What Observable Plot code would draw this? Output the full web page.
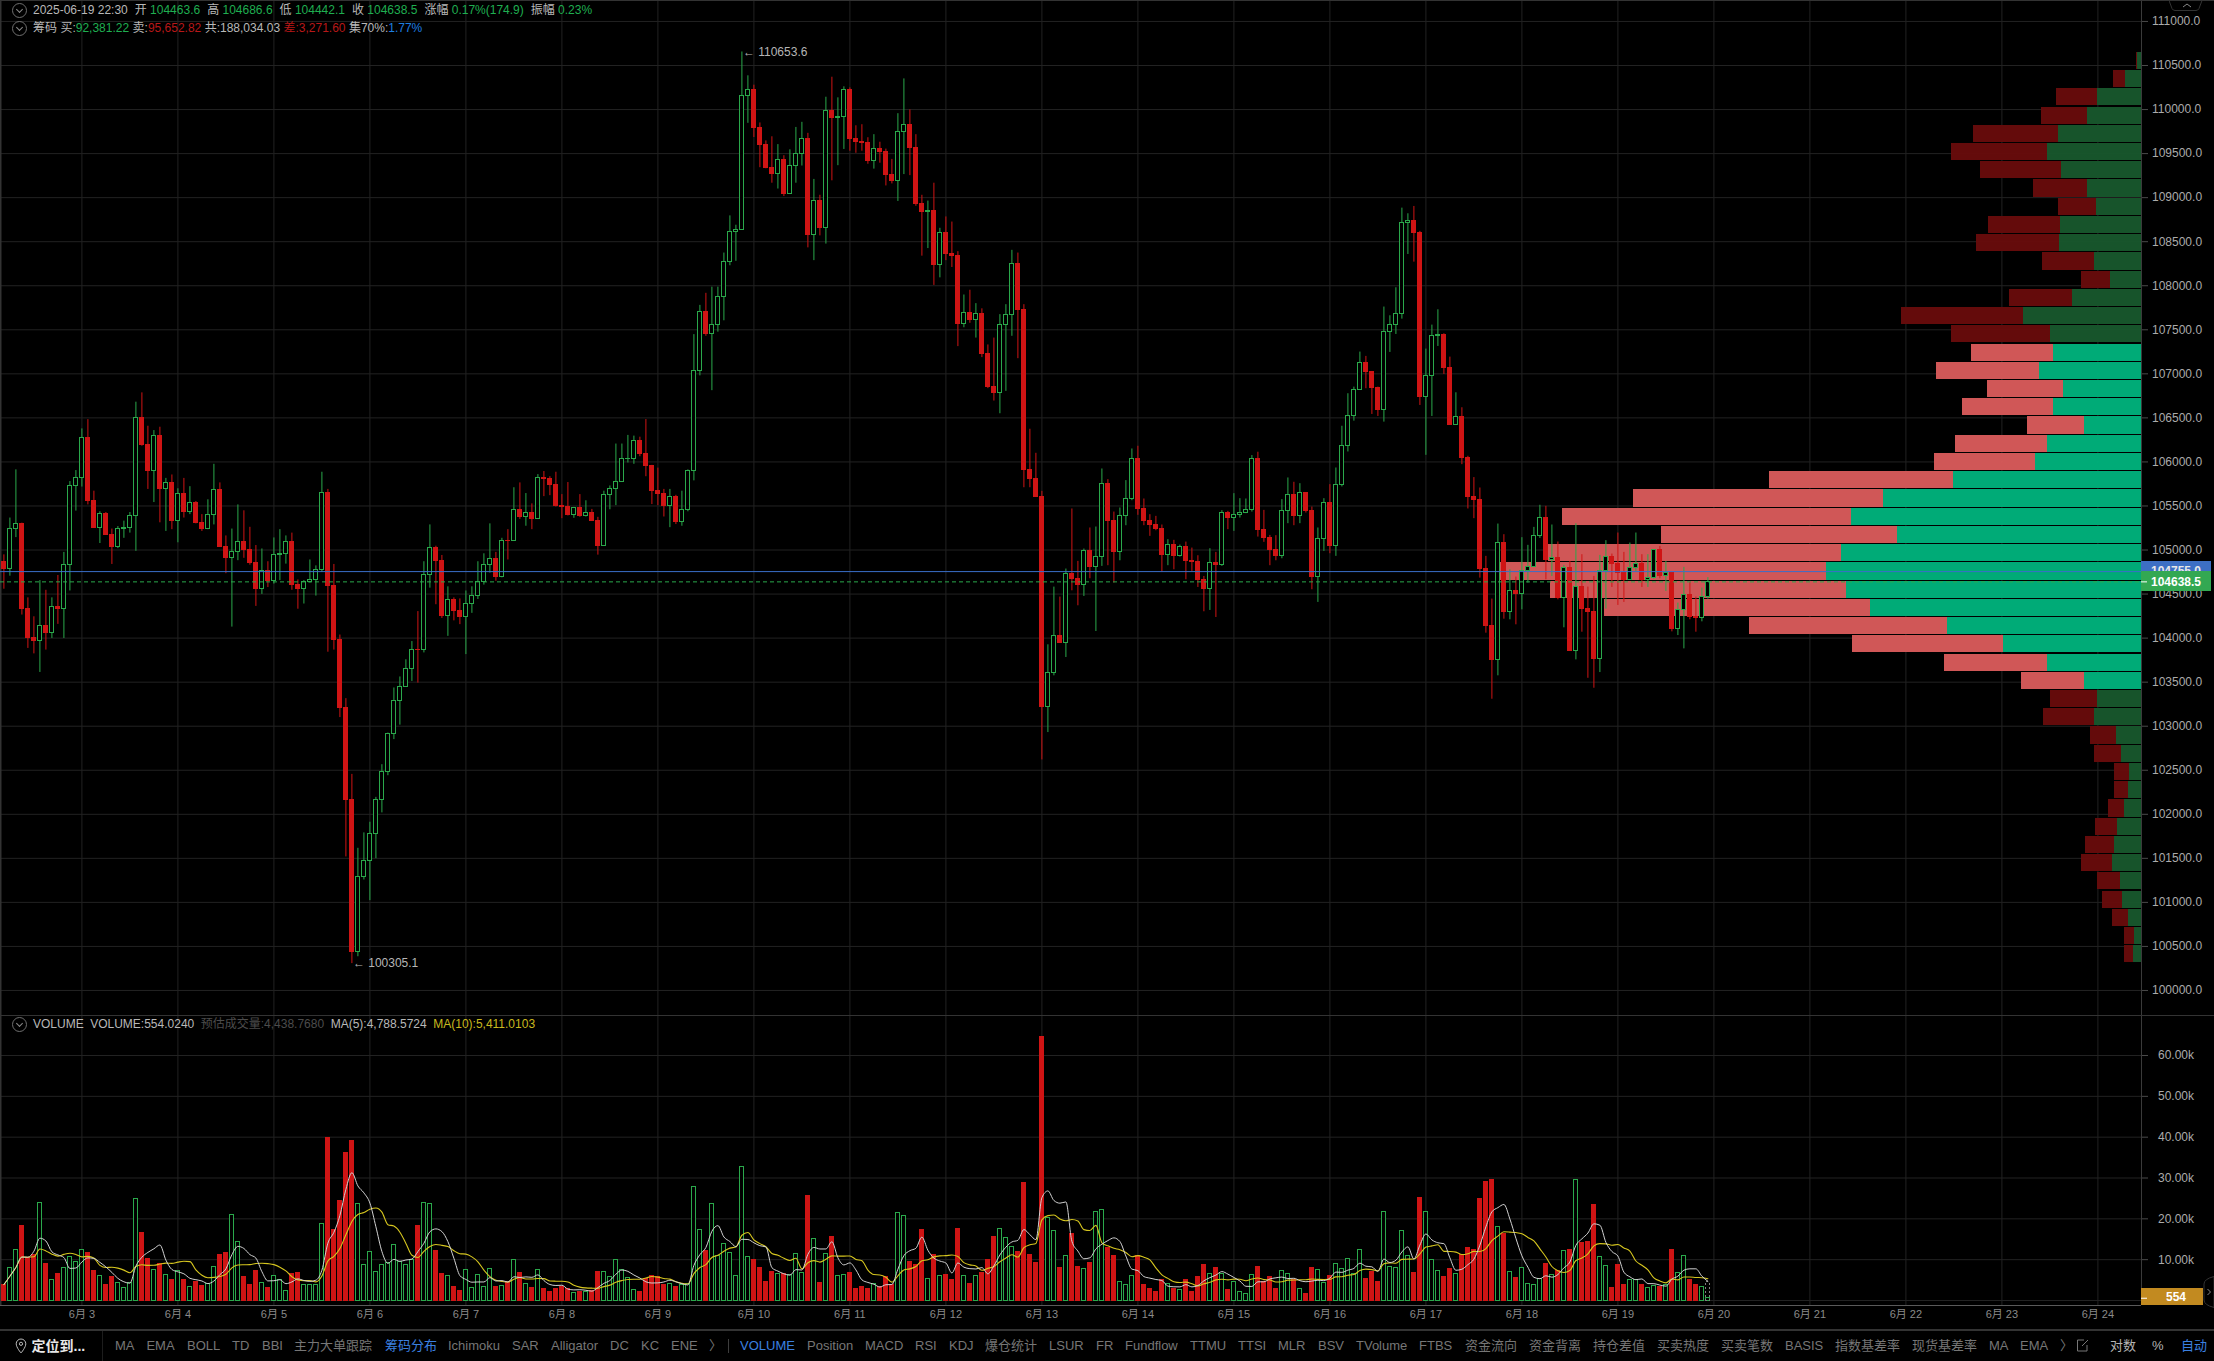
<!DOCTYPE html>
<html lang="zh">
<head>
<meta charset="utf-8">
<title>K线 筹码分布</title>
<script src="https://cdn.jsdelivr.net/npm/d3@7"></script>
<script src="https://cdn.jsdelivr.net/npm/@observablehq/plot@0.6"></script>
<style>
html,body{margin:0;padding:0;background:#000;}
body{position:relative;width:2214px;height:1361px;overflow:hidden;font-family:"Liberation Sans","Noto Sans CJK SC",sans-serif;font-size:12px;color:#b8b8b8;}
.pane{position:absolute;left:0;}
.pane svg{display:block;max-width:none;}
.pane svg rect{shape-rendering:crispEdges;}
.hd{position:absolute;left:33px;white-space:pre;line-height:18px;height:18px;}
.hd .g{color:#1fae50}.hd .r{color:#b81818}.hd .b{color:#1e7fe0}.hd .w{color:#b8b8b8}.hd .d{color:#4c4c4c}.hd .y{color:#c9b91f}
.hd .gap{margin-left:7px}.hd .gap2{margin-left:6.5px}.hd .sm{margin-left:3.4px}
.ln{position:absolute;background:#333;}
.circ{position:absolute;left:12px;width:13px;height:13px;border:1px solid #6f6f6f;border-radius:50%;}
.circ:after{content:"";position:absolute;left:4px;top:3px;width:4px;height:4px;border-right:1px solid #8a8a8a;border-bottom:1px solid #8a8a8a;transform:rotate(45deg);}
.tb{position:absolute;top:1336px;line-height:20px;height:20px;font-size:13px;color:#767676;white-space:pre;}
.tb.on{color:#3b80e0}
.tb.br{color:#b4b4b4}
</style>
</head>
<body>
<div id="price" class="pane" style="top:0"></div>
<div id="vol" class="pane" style="top:1015px"></div>
<script>
// ---- values ----
const lastCandle = "2025-06-19T22:30:00Z";
const candleHours = 1.5;
const firstOpen = 104867;
const closes = [
104781,105238,105297,104328,103998,103965,104141,104055,104352,104336,
104832,105727,105817,106273,105559,105254,105414,105168,105039,105242,
105250,105387,106500,106195,105895,106300,105688,105758,105328,105637,
105426,105535,105305,105235,105399,105684,105039,104914,104981,105094,
105000,104848,104555,104758,104645,104945,104953,105094,104602,104555,
104641,104660,104777,105649,104590,103977,103207,102164,100434,101293,
101465,101782,102157,102485,102906,103285,103450,103653,103864,103860,
104715,105020,104879,104250,104434,104309,104238,104391,104481,104637,
104832,104895,104692,105106,105100,105453,105375,105422,105348,105820,
105801,105742,105504,105488,105395,105473,105383,105422,105328,105043,
105621,105688,105770,106028,106035,106234,106094,105953,105672,105641,
105500,105606,105317,105457,105895,107035,107707,107457,107555,107875,
108273,108613,108633,110156,110226,109789,109598,109336,109269,109422,
109043,109363,109496,109668,108578,108961,108656,109988,109906,109918,
110226,109664,109633,109621,109418,109551,109516,109258,109187,109750,
109828,109562,108930,108832,108852,108238,108594,108363,108332,107563,
107695,107613,107680,107227,106852,106785,107559,107672,108242,107727,
105910,105809,105602,103215,103602,104022,103950,104727,104674,104606,
104988,104803,104920,105750,105325,104981,105386,105579,106030,105469,
105333,105287,105234,104939,105056,104935,105034,104878,104867,104662,
104553,104852,104833,105420,105359,105394,105420,105450,106030,105231,
105140,104996,104928,105443,105625,105382,105647,105439,104689,105125,
105534,105041,105734,106181,106522,106819,107126,107020,106838,106585,
107478,107557,107682,108715,108738,108598,106736,106978,107432,107444,
107065,106414,106509,106049,105598,105572,104787,104143,103746,105079,
104302,104534,104503,104761,104803,105159,105364,104890,104909,104454,
104795,103855,104575,104336,104291,103768,104761,104920,104837,104734,
104662,104791,104841,104662,104678,105000,104708,104738,104105,104317,
104484,104245,104223,104463.6,104638.5];
const highs = [
104945,105363,105910,105305,104457,104242,104653,104543,104457,104711,
104973,105777,105902,106375,106480,105668,105434,105426,105238,105266,
105328,105426,106678,106784,106405,106356,106394,105813,105852,105695,
105813,105719,105551,105402,105570,105973,105762,105160,105238,105512,
105445,105258,105051,105012,104867,105137,105231,105160,105192,104660,
104653,104887,104820,105883,105688,104836,104035,103313,102453,101614,
101789,101910,102192,102563,102922,103434,103559,103754,103961,104301,
104867,105285,105043,104938,104582,104457,104445,104535,104582,104867,
104957,105297,104973,105133,105231,105707,105762,105641,105524,105856,
105891,105832,105883,105629,105766,105484,105629,105559,105461,105371,
105668,105727,106203,106203,106301,106293,106281,106481,105961,105930,
105688,105688,105621,105668,105910,107445,107777,107914,107984,107984,
108371,108793,108687,110653.6,110383,110277,109848,109644,109691,109602,
109476,109543,109797,109855,109730,109207,109027,110140,110367,110133,
110258,110246,109816,109828,109680,109715,109629,109551,109434,109953,
110348,109996,109715,109027,108961,109164,108652,108781,108723,108387,
107895,107949,107797,107738,107328,107406,107672,107785,108402,108371,
107785,106371,106098,105666,103924,104579,104466,104784,105466,104871,
105011,105250,105261,105920,105799,105431,105477,105788,106147,106178,
105579,105401,105382,105284,105117,105110,105056,105090,105022,104935,
104700,105015,104973,105447,105439,105640,105583,105579,106072,106110,
105450,105166,105163,105572,105818,105769,105753,105647,105488,105250,
105583,105742,105931,106405,106774,106849,107247,107198,107027,106849,
107758,107659,107977,108881,108817,108900,108617,107281,107553,107727,
107455,107190,106785,106615,106064,105822,105704,104928,104443,105295,
105174,104776,104693,105140,105053,105257,105508,105496,105284,105091,
104825,104871,105299,104947,104579,104700,104939,105106,104954,105193,
104973,105079,105193,104947,104947,105000,105041,104871,104738,104397,
104803,104636,104465,104568,104686.6];
const lows = [
104555,104703,105141,104262,103883,103821,103610,103864,103996,104156,
103996,104535,105442,105715,105512,105254,105074,105168,104836,105016,
105133,105192,104985,106178,105688,105539,105309,105211,105231,105082,
105363,105402,105297,105211,105231,105285,105039,104731,104125,104879,
104906,104828,104360,104496,104574,104613,104653,104840,104543,104328,
104387,104625,104477,104750,103840,103864,103098,101516,100305.1,100383,
101254,101020,101496,102016,102438,102848,103012,103450,103508,103489,
103832,104567,104379,104223,104020,104196,104153,103813,104281,104438,
104602,104738,104645,104684,104887,105098,105348,105270,105231,105348,
105606,105617,105488,105356,105387,105360,105371,105375,105324,104942,
105043,105457,105504,105766,105988,105973,106059,105832,105516,105504,
105375,105254,105289,105270,105434,105785,106977,107426,106809,107473,
107602,108227,108277,108633,109844,109683,109340,109328,109164,109098,
109012,109039,109164,109359,108430,108285,108566,108473,109191,109363,
109547,109527,109504,109527,109379,109324,109391,109133,109156,108957,
109262,109250,108902,108336,108422,108004,108090,108285,108207,107309,
107523,107574,107406,107184,106832,106691,106547,106801,107426,107172,
105707,105707,105602,102617,102928,103572,103950,103780,104537,104367,
104473,104674,104075,104814,104822,104625,104878,105276,105560,105394,
105276,105155,105219,104746,104822,104776,104920,104662,104757,104575,
104299,104314,104234,104814,105231,105212,105363,105413,105431,105147,
105087,104822,104878,104901,105299,105276,105299,105420,104549,104405,
104984,104958,104928,105716,106113,106463,106819,106831,106539,106516,
106452,107243,107447,107621,108355,108268,106641,106075,106516,107311,
106993,106414,106414,105969,105466,105356,104681,104056,103306,103572,
104215,104208,104151,104321,104625,104803,105132,104662,104700,104435,
104117,103855,103753,104067,103544,103431,103609,104329,104575,104371,
104405,104655,104753,104575,104575,104670,104674,104530,104071,104029,
103878,104208,104067,104185,104442.1];
const volumes = [
3900,8000,12400,18300,10400,11200,24000,9000,5000,6600,
8000,10700,9500,12400,11600,7300,5900,3900,5700,4300,
3100,4200,24800,16600,10200,7500,8900,6300,5100,7300,
5100,3400,4600,3500,4100,8300,11200,11600,20900,14300,
5700,3700,7300,4300,3000,5900,5000,2400,6500,6700,
3900,3900,3900,18700,39800,17200,24400,36100,39000,23600,
8700,11900,7100,8700,9100,13600,9500,8700,9800,18300,
23800,23600,12200,6500,6000,3400,2400,7500,3100,6300,
3400,7700,3400,3600,4500,9900,6800,4100,3100,7500,
2900,2000,2900,3400,2800,1900,2200,2200,2400,7100,
7100,5700,9900,7500,5500,2600,2000,5300,6000,5700,
3700,4100,3400,3700,4100,27700,17200,12200,23600,11000,
13800,11600,6000,32600,10700,9800,8000,4600,7100,6500,
6500,6300,11400,6700,25600,15000,4400,11400,15600,5900,
6300,6800,2900,3400,2700,4100,3400,5700,3700,21400,
20700,9500,8700,17300,5300,11100,5900,6300,5100,17600,
5900,4100,5900,6800,10000,15600,17500,15400,13200,12000,
28800,11200,9300,64600,20300,17100,7900,10800,16400,8300,
7700,9100,21700,22100,12800,11000,4600,3900,6100,11000,
3700,2700,2200,4900,4100,2900,2600,4900,2200,5700,
8700,6500,8000,6500,2600,4600,2200,1500,6300,8300,
4600,5700,2900,7200,6500,4900,2800,1600,8000,7500,
4400,6000,8900,7700,10200,6500,12400,5200,6900,4600,
21700,8100,8000,17100,10800,6800,25100,21700,9800,7300,
5700,7700,6500,11100,12900,12400,24800,29000,29500,18000,
16300,7000,5400,8000,4100,3900,5300,9000,6300,7300,
12100,12400,29500,14200,14400,23400,10700,8500,3000,8800,
3700,5000,5000,3900,3100,3600,3300,3700,12400,6800,
10900,5000,3700,3400,554];

// chip distribution, top bin first
const chipLow = 100305.1, chipHigh = 110653.6, chipBins = 50;
const chipBuy = [86,326,874,1086,1666,1886,1606,1086,906,1626,1646,946,626,1386,2366,1826,1766,2046,1566,1766,1146,1886,2126,3760,5160,5800,4872,6000,6300,5910,5420,3880,2760,1880,1140,880,940,500,400,240,260,340,480,540,580,420,380,260,140,160];
const chipSell = [20,240,834,920,1700,1920,1620,1080,760,1440,1660,1040,580,1260,2440,1980,1640,2060,1520,1820,1140,1840,2020,3680,5000,5780,4720,5860,6520,5920,5320,3960,3020,2060,1260,940,1020,520,540,300,280,320,440,580,620,460,400,320,200,180];
const valueAreaFirst = 16, valueAreaLast = 34;   // the 70% concentration bins

const lastPrice = 104638.5, markPrice = 104755.0;
const lastVolume = 554.024, estimatedVolume = 4438.768;
const days = [3,4,5,6,7,8,9,10,11,12,13,14,15,16,17,18,19,20,21,22,23,24];
const priceTicks = d3.range(100000, 111001, 500);
const volumeTicks = [10000,20000,30000,40000,50000,60000];

const toolbarLabels = ["MA","EMA","BOLL","TD","BBI","主力大单跟踪","筹码分布","Ichimoku","SAR","Alligator","DC","KC","ENE","〉","VOLUME","Position","MACD","RSI","KDJ","爆仓统计","LSUR","FR","Fundflow","TTMU","TTSI","MLR","BSV","TVolume","FTBS","资金流向","资金背离","持仓差值","买卖热度","买卖笔数","BASIS","指数基差率","现货基差率","MA","EMA","〉","对数","%","自动"];
const toolbarLefts = [115,146.4,187,232,262,294,385,448,512,551,610,641,671,709,740,807,865,915,949,985,1049,1096,1125,1190,1238,1278,1318,1356,1419,1465,1529,1593,1657,1721,1785,1835,1912,1989,2020,2060,2110,2152,2181];
const toolbarActive = new Set([6,14,42]);
const toolbarBright = new Set([40,41]);

// ---- layout ----
const W = 2214, H1 = 1015, H2 = 315, M_R = 73;
const xDomain = [new Date("2025-06-02T03:39:00Z"), new Date("2025-06-24T10:54:00Z")];
const MIN = 60000, HOUR = 3600000;
const yPriceDomain = [99716, 111238];
const yVolDomain = [-1224, 69800];
const F = '"Liberation Sans","Noto Sans CJK SC",sans-serif';

const RED = "#cf1414", GREEN = "#2aa84b", GRID = "#222222", AXIS = "#3a3a3a", TXT = "#ababab";
const lastT = new Date(lastCandle).getTime();
const candles = closes.map((c, i) => {
  const open = i ? closes[i - 1] : firstOpen;
  return {t: new Date(lastT - (closes.length - 1 - i) * candleHours * HOUR), open, close: c,
          high: highs[i], low: lows[i], vol: volumes[i], up: c >= open};
});
const dayDates = days.map(d => new Date(Date.UTC(2025, 5, d)));
const right = xDomain[1].getTime();
const atRight = px => new Date(right + px * 15 * MIN);   // right-gutter offset, 1px = 15min on this scale
const span = 25 * MIN;
const bodyX1 = d => new Date(+d.t - span), bodyX2 = d => new Date(+d.t + span);

const chipStep = (chipHigh - chipLow) / chipBins;
const chips = chipBuy.map((b, i) => ({
  i, buy: b, sell: chipSell[i],
  y1: chipLow + chipStep * (chipBins - 1 - i) + 8,
  y2: chipLow + chipStep * (chipBins - i) - 4,
  hot: i >= valueAreaFirst && i <= valueAreaLast
}));
const chipMs = 45000; // chip units to the shared x scale: profile grows leftward from the price axis
const chipX = v => new Date(right - v * chipMs);

const upC = candles.filter(d => d.up), dnC = candles.filter(d => !d.up);
const hi = candles.find(d => d.high === 110653.6), lo = candles.find(d => d.low === 100305.1);

const pricePlot = Plot.plot({
  width: W, height: H1, marginTop: 0, marginBottom: 0, marginLeft: 0, marginRight: M_R,
  style: {background: "transparent", fontFamily: F, fontSize: "12px", overflow: "visible"},
  x: {type: "utc", domain: xDomain, axis: null},
  y: {domain: yPriceDomain, axis: null},
  marks: [
    Plot.ruleX(dayDates.slice(), {stroke: GRID}),
    Plot.ruleY(priceTicks, {stroke: GRID}),
    Plot.ruleX([xDomain[0]], {stroke: "#333", strokeWidth: 2}),
    // chip profile
    Plot.rect(chips, {x1: d => chipX(d.buy), x2: chipX(0), y1: "y1", y2: "y2",
      fill: d => d.hot ? "#00b27c" : "#18572d", fillOpacity: 0.96}),
    Plot.rect(chips, {x1: d => chipX(d.buy + d.sell), x2: d => chipX(d.buy), y1: "y1", y2: "y2",
      fill: d => d.hot ? "#d95b5b" : "#680b0b", fillOpacity: 0.96}),
    // axis
    Plot.ruleX([xDomain[1]], {stroke: AXIS}),
    Plot.axisY(priceTicks, {anchor: "right", tickSize: 6, tickPadding: 4.5, tickFormat: d => d.toFixed(1),
      label: null, stroke: "#4a4a4a", fill: TXT, fontSize: 12, fontWeight: 500}),
    // candles
    Plot.ruleX(candles, {x: "t", y1: "low", y2: "high", stroke: d => d.up ? GREEN : RED, strokeWidth: 1}),
    Plot.rect(dnC, {x1: bodyX1, x2: bodyX2, y1: "open", y2: "close", fill: RED, stroke: RED, strokeWidth: 1}),
    Plot.rect(upC, {x1: bodyX1, x2: bodyX2, y1: "open", y2: "close", fill: "#000", stroke: GREEN, strokeWidth: 1}),
    // price lines
    Plot.ruleY([markPrice], {stroke: "#3a6fc9", strokeWidth: 1, x1: xDomain[0], x2: xDomain[1]}),
    Plot.ruleY([lastPrice], {stroke: GREEN, strokeWidth: 1, strokeDasharray: "4,3", x1: xDomain[0], x2: xDomain[1]}),
    // tags
    Plot.rect([markPrice], {x1: atRight(0), x2: atRight(69.5), y1: d => d - 112, y2: d => d + 112, fill: "#3d6fc4"}),
    Plot.text([markPrice], {x: atRight(34.5), y: d => d, text: d => d.toFixed(1), fill: "#e8e8e8", fontSize: 12, fontWeight: 700}),
    Plot.rect([lastPrice], {x1: atRight(0), x2: atRight(69.5), y1: d => d - 112, y2: d => d + 112, fill: "#33a852"}),
    Plot.text([lastPrice], {x: atRight(34.5), y: d => d, text: d => d.toFixed(1), fill: "#fff", fontSize: 12, fontWeight: 700}),
    Plot.ruleY([lastPrice], {x1: atRight(0), x2: atRight(6), stroke: "#fff"}),
    // extreme labels
    Plot.text([hi], {x: "t", y: "high", text: d => "← " + d.high.toFixed(1), dx: 1, textAnchor: "start", fill: "#b5b5b5", fontSize: 12}),
    Plot.text([lo], {x: "t", y: "low", text: d => "← " + d.low.toFixed(1), dx: 1, textAnchor: "start", fill: "#b5b5b5", fontSize: 12})
  ]
});
document.getElementById("price").append(pricePlot);

const volPlot = Plot.plot({
  width: W, height: H2, marginTop: 0, marginBottom: 25, marginLeft: 0, marginRight: M_R,
  style: {background: "transparent", fontFamily: F, fontSize: "11px", overflow: "visible"},
  x: {type: "utc", domain: xDomain, axis: null},
  y: {domain: yVolDomain, axis: null},
  marks: [
    Plot.ruleX(dayDates.slice(), {stroke: GRID}),
    Plot.ruleY([0].concat(volumeTicks), {stroke: GRID}),
    Plot.ruleX([xDomain[0]], {stroke: "#333", strokeWidth: 2}),
    Plot.ruleX([xDomain[1]], {stroke: AXIS}),
    Plot.rect(candles.filter(d => !d.up), {x1: bodyX1, x2: bodyX2, y1: 0, y2: "vol", fill: RED, stroke: RED, strokeWidth: 1}),
    Plot.rect(candles.filter(d => d.up), {x1: bodyX1, x2: bodyX2, y1: 0, y2: "vol", fill: "#000", stroke: GREEN, strokeWidth: 1}),
    Plot.rect([candles[candles.length - 1]], {x1: bodyX1, x2: bodyX2, y1: 0, y2: estimatedVolume, stroke: "#808080", strokeDasharray: "2,2", fill: "none"}),
    Plot.lineY(candles, Plot.windowY({k: 10, anchor: "end", reduce: "mean", strict: false}, {x: "t", y: "vol", stroke: "#d6c61f", strokeWidth: 1.1, curve: "monotone-x"})),
    Plot.lineY(candles, Plot.windowY({k: 5, anchor: "end", reduce: "mean", strict: false}, {x: "t", y: "vol", stroke: "#d2d2d2", strokeWidth: 1, curve: "monotone-x"})),
    Plot.ruleY([yVolDomain[0]], {x1: xDomain[0], x2: xDomain[1], stroke: "#5a5a5a", strokeWidth: 1}),
    Plot.axisY(volumeTicks, {anchor: "right", tickSize: 6, tickPadding: 10.5, tickFormat: d => (d / 1000).toFixed(2) + "k",
      label: null, stroke: "#4a4a4a", fill: TXT, fontSize: 12, fontWeight: 500}),
    Plot.axisX(dayDates, {anchor: "bottom", tickSize: 0, tickPadding: 5, tickFormat: d => "6月 " + d.getUTCDate(),
      label: null, stroke: "none", fill: "#8a8a8a", fontSize: 11}),
    Plot.rect([lastVolume], {x1: atRight(0), x2: atRight(62), y1: yVolDomain[0], y2: 2940, fill: "#c28a20"}),
    Plot.text([lastVolume], {x: atRight(34.5), y: 900, text: d => String(Math.round(d)), fill: "#fff", fontSize: 12, fontWeight: 700}),
    Plot.ruleY([lastVolume], {x1: atRight(0), x2: atRight(6), stroke: "#fff"})
  ]
});
document.getElementById("vol").append(volPlot);

// ---- text and chrome around the plots ----
const add = (html, cls, css) => {
  const e = document.createElement("div");
  e.className = cls; e.style.cssText = css; e.innerHTML = html;
  document.body.append(e);
};
add('<span>2025-06-19 22:30</span><span class="gap">开 <span class="g">104463.6</span></span><span class="gap">高 <span class="g">104686.6</span></span><span class="gap">低 <span class="g">104442.1</span></span><span class="gap">收 <span class="g">104638.5</span></span><span class="gap">涨幅 <span class="g">0.17%(174.9)</span></span><span class="gap">振幅 <span class="g">0.23%</span></span>', "hd", "top:0.5px");
add('<span>筹码</span><span class="sm">买:<span class="g">92,381.22</span></span><span class="sm">卖:<span class="r">95,652.82</span></span><span class="sm">共:188,034.03</span><span class="sm r" style="color:#b81818">差:3,271.60</span><span class="sm">集70%:<span class="b">1.77%</span></span>', "hd", "top:19px");
add('<span>VOLUME</span><span class="gap2">VOLUME:554.0240</span><span class="gap2 d" style="color:#4c4c4c">预估成交量:4,438.7680</span><span class="gap2">MA(5):4,788.5724</span><span class="gap2 y" style="color:#c9b91f">MA(10):5,411.0103</span>', "hd", "top:1014.5px");
add("", "circ", "top:3px");
add("", "circ", "top:21px");
add("", "circ", "top:1016.5px");
add("", "ln", "left:0;top:0;width:2214px;height:1px");
add("", "ln", "left:0;top:1015px;width:2214px;height:1px");
add("", "ln", "left:0;top:1329px;width:2214px;height:2px");
add("", "ln", "left:102px;top:1331px;width:1px;height:30px;background:#1d1d1d");
add("", "ln", "left:728px;top:1339px;width:1px;height:14px;background:#3d3d3d");
toolbarLabels.forEach((t, i) => add(t, "tb" + (toolbarActive.has(i) ? " on" : "") + (toolbarBright.has(i) ? " br" : ""), `left:${toolbarLefts[i]}px`));
add("定位到...", "tb", "left:31.5px;color:#e8e8e8;font-weight:700;font-size:14px");
add('<svg width="12" height="16" viewBox="0 0 12 16"><path d="M6 1a4.8 4.8 0 0 0-4.8 4.8C1.2 9.4 6 15 6 15s4.8-5.6 4.8-9.2A4.8 4.8 0 0 0 6 1z" fill="none" stroke="#bbb"/><circle cx="6" cy="5.8" r="1.6" fill="none" stroke="#bbb"/></svg>', "tb", "left:15px;top:1338px;height:16px;line-height:0");
add('<svg width="13" height="14" viewBox="0 0 13 14"><path d="M8 2H1.5v11H11V7M6 8l6-6" fill="none" stroke="#777"/></svg>', "tb", "left:2076px;top:1338px;height:14px;line-height:0");
add('<svg width="36" height="11" viewBox="0 0 36 11"><path d="M0 .5h33l-3 8q-1 2-3 2H6q-2 0-3-2z" fill="#000" stroke="#333"/><path d="M14 7l4-3 4 3" fill="none" stroke="#888"/></svg>', "tb", "left:2169px;top:0;height:11px;line-height:0");
add('<svg width="11" height="32" viewBox="0 0 11 32"><path d="M11 .5Q1 3 1 8v16q0 5 10 7.5z" fill="#000" stroke="#333"/><path d="M4.5 13l3 3-3 3" fill="none" stroke="#888"/></svg>', "tb", "left:2203px;top:1276px;height:32px;line-height:0");
</script>
</body>
</html>
